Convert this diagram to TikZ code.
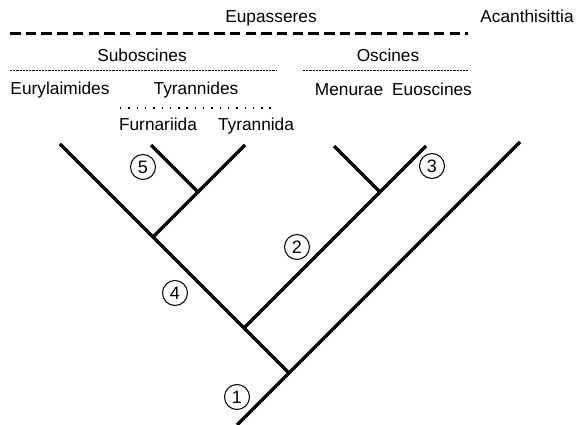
\documentclass[tikz,border=0pt]{standalone}
\usepackage{fontspec}
\setmainfont{Liberation Sans}
\tikzset{
  clade label/.style = {
    font = \fontsize{17.3}{20}\selectfont,
    anchor = base,
    inner sep = 0pt},
  clade mark/.style = {
    shape = circle,
    draw,
    line width = 1pt,
    minimum size = 25pt,
    inner sep = 0pt,
    font = \fontsize{18}{20}\selectfont},
  branch/.style = {line width = 3.2pt},
  group dash/.style = {line width = 2.6pt, dash pattern = on 10.5pt off 5.2pt},
  subgroup dash/.style = {line width = 1pt, dash pattern = on 2.2pt off 1pt},
  subgroup dots/.style = {line width = 1.4pt, dash pattern = on 1.4pt off 6.9pt}
}
\begin{document}
\begin{tikzpicture}[x = 1pt, y = -1pt]
  \useasboundingbox (0,0) rectangle (576,425);
  \node[clade label] (eupasseres) at (271,23) {Eupasseres};
  \node[clade label] (acanthisittia) at (527,23) {Acanthisittia};
  \node[clade label] (suboscines) at (142,61.5) {Suboscines};
  \node[clade label] (oscines) at (388,61.5) {Oscines};
  \node[clade label] (eurylaimides) at (60,95) {Eurylaimides};
  \node[clade label] (tyrannides) at (196,95) {Tyrannides};
  \node[clade label] (menurae) at (349,95.5) {Menurae};
  \node[clade label] (euoscines) at (432,95.5) {Euoscines};
  \node[clade label] (furnariida) at (158,130.5) {Furnariida};
  \node[clade label] (tyrannida) at (256,130.5) {Tyrannida};
  \draw[group dash]    (10,33.5) -- (468,33.5);
  \draw[subgroup dash] (10,70.5) -- (277,70.5);
  \draw[subgroup dash] (303,70.5) -- (468,70.5);
  \draw[subgroup dots] (120,108) -- (277,108);
  \coordinate (root) at (237,425);
  \coordinate (n1) at (289,373);
  \coordinate (n2) at (244,328);
  \coordinate (n3) at (380,192);
  \coordinate (n4) at (153,237);
  \coordinate (n5) at (198,192);
  \coordinate (tip acanthisittia) at (520,142);
  \coordinate (tip eurylaimides) at (60,144);
  \coordinate (tip menurae) at (334,146);
  \coordinate (tip euoscines) at (426,146);
  \coordinate (tip furnariida) at (151,145);
  \coordinate (tip tyrannida) at (245,145);
  \draw[branch] (root) -- (n1) -- (tip acanthisittia);
  \draw[branch] (n1) -- (n2) -- (n4) -- (tip eurylaimides);
  \draw[branch] (n2) -- (n3) -- (tip euoscines);
  \draw[branch] (n3) -- (tip menurae);
  \draw[branch] (n4) -- (n5) -- (tip tyrannida);
  \draw[branch] (n5) -- (tip furnariida);
  \node[clade mark] (mark1) at (237,397) {1};
  \node[clade mark] (mark2) at (297,247) {2};
  \node[clade mark] (mark3) at (432,166) {3};
  \node[clade mark] (mark4) at (175,293) {4};
  \node[clade mark] (mark5) at (143,167) {5};
\end{tikzpicture}
\end{document}
